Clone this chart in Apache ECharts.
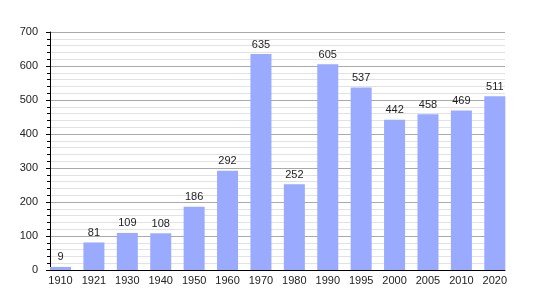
<!DOCTYPE html>
<html><head><meta charset="utf-8">
<script src="https://cdn.jsdelivr.net/npm/echarts@6/dist/echarts.min.js"></script>
<style>html,body{margin:0;padding:0;background:#fff}#c{width:535px;height:300px}</style>
</head><body><div id="c"></div>
<script>
const categories = ['1910','1921','1930','1940','1950','1960','1970','1980','1990','1995','2000','2005','2010','2020'];
const population = [9,81,109,108,186,292,635,252,605,537,442,458,469,511];
const yTicks = [0,100,200,300,400,500,600,700];

const chart = echarts.init(document.getElementById('c'), null, {renderer:'canvas'});
const font = 'Liberation Sans, Arial, sans-serif';
const yMin = yTicks[0], yMax = yTicks[yTicks.length-1];
chart.setOption({
  animation:false,
  grid:[
    {left:50,right:30,top:32,bottom:30,containLabel:false},
    {left:43.8,right:23.5,top:32,bottom:30,containLabel:false}
  ],
  xAxis:[
    {gridIndex:0,type:'category',data:categories,
      axisLine:{lineStyle:{color:'#000',width:1}},
      axisTick:{show:false},axisLabel:{show:false},splitLine:{show:false}},
    {gridIndex:1,type:'category',data:categories,
      axisLine:{show:false},axisTick:{show:false},
      axisLabel:{color:'#222',fontFamily:font,fontSize:11,margin:5}}
  ],
  yAxis:[
    {gridIndex:0,type:'value',min:yMin,max:yMax,interval:100,
      axisLine:{show:true,lineStyle:{color:'#000'}},
      axisTick:{show:true,length:4,lineStyle:{color:'#000'}},
      minorTick:{show:true,splitNumber:5,length:3,lineStyle:{color:'#000'}},
      splitLine:{lineStyle:{color:'#aaa'}},
      minorSplitLine:{show:true,lineStyle:{color:'#e2e2e2'}},
      axisLabel:{color:'#222',fontFamily:font,fontSize:11,margin:12}},
    {gridIndex:1,type:'value',min:yMin,max:yMax,show:false,splitLine:{show:false}}
  ],
  series:[{type:'bar',xAxisIndex:1,yAxisIndex:1,data:population,barWidth:21,
    itemStyle:{color:'#99aaff'},
    label:{show:true,position:'top',color:'#222',fontFamily:font,fontSize:11,distance:4}}]
});
</script></body></html>
